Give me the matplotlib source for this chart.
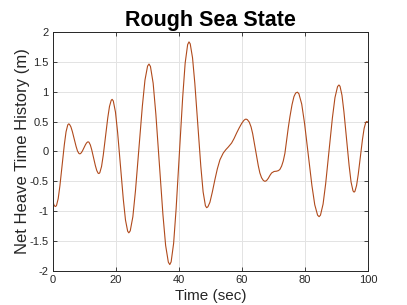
import matplotlib
matplotlib.use("Agg")
import matplotlib.pyplot as plt

# tiempo (s) y altura neta (m)
time_sec = [0.0, 0.3, 0.6, 0.85,
            1.14, 1.68, 2.22, 2.93, 3.63, 4.17, 4.71, 5.0,
            5.25, 5.7, 6.16, 6.75, 7.35, 7.8, 8.26, 8.5,
            8.69, 9.04, 9.39, 9.85, 10.31, 10.66, 11.01, 11.2,
            11.44, 11.88, 12.32, 12.9, 13.48, 13.92, 14.36, 14.6,
            14.89, 15.44, 15.99, 16.7, 17.41, 17.96, 18.51, 18.8,
            19.17, 19.86, 20.55, 21.45, 22.35, 23.04, 23.73, 24.1,
            24.55, 25.38, 26.21, 27.3, 28.39, 29.22, 30.05, 30.5,
            30.96, 31.82, 32.68, 33.8, 34.92, 35.78, 36.64, 37.1,
            37.53, 38.32, 39.11, 40.15, 41.19, 41.98, 42.77, 43.2,
            43.59, 44.32, 45.05, 46.0, 46.95, 47.68, 48.41, 48.8,
            49.2, 49.84, 50.6, 51.43, 52.2, 53.02, 54.07, 54.9, 55.66, 56.72,
            57.5, 58.31, 59.1, 59.89, 60.6, 61.0, 61.3, 61.7, 62.33, 62.9,
            63.4, 64.1, 64.7, 65.2, 65.7, 66.24, 66.8, 67.3, 67.8, 68.36,
            68.9, 69.42, 70.2, 71.0, 71.6, 72.06, 72.6, 73.12, 73.65, 74.18,
            74.7, 75.24, 75.9, 76.51, 77.05, 77.6,
            78.08, 78.98, 79.88, 81.05, 82.22, 83.12, 84.02, 84.5,
            84.94, 85.76, 86.58, 87.65, 88.72, 89.54, 90.36, 90.8,
            91.14, 91.76, 92.38, 93.2, 94.02, 94.64, 95.26, 95.6,
            95.88, 96.4, 96.92, 97.6, 98.28, 98.8, 99.32, 99.6, 100.0]
heave_m = [-0.83, -0.89, -0.915, -0.92,
           -0.903, -0.788, -0.575, -0.23, 0.115, 0.328, 0.443, 0.46,
           0.454, 0.412, 0.335, 0.21, 0.085, 0.008, -0.034, -0.04,
           -0.038, -0.021, 0.01, 0.06, 0.11, 0.141, 0.158, 0.16,
           0.154, 0.109, 0.0275, -0.105, -0.2375, -0.319, -0.364, -0.37,
           -0.355, -0.252, -0.06, 0.25, 0.56, 0.752, 0.855, 0.87,
           0.843, 0.657, 0.3125, -0.245, -0.8025, -1.147, -1.333, -1.36,
           -1.326, -1.091, -0.655, 0.05, 0.755, 1.191, 1.426, 1.46,
           1.42, 1.14, 0.6225, -0.215, -1.0525, -1.57, -1.85, -1.89,
           -1.845, -1.535, -0.96, -0.03, 0.9, 1.475, 1.785, 1.83,
           1.797, 1.565, 1.1375, 0.445, -0.2475, -0.675, -0.907, -0.94,
           -0.925, -0.85, -0.68, -0.47, -0.29, -0.14, -0.027, 0.03, 0.073, 0.14,
           0.215, 0.307, 0.39, 0.465, 0.518, 0.535, 0.54, 0.532, 0.49, 0.41,
           0.30, 0.09, -0.09, -0.24, -0.36, -0.44, -0.485, -0.5, -0.488, -0.45,
           -0.40, -0.36, -0.335, -0.33, -0.32, -0.30, -0.245, -0.16, -0.03, 0.18,
           0.39, 0.58, 0.78, 0.915, 0.975, 0.99,
           0.965, 0.791, 0.47, -0.05, -0.57, -0.891, -1.065, -1.09,
           -1.064, -0.88, -0.54, 0.01, 0.56, 0.9, 1.084, 1.11,
           1.089, 0.939, 0.6625, 0.215, -0.2325, -0.509, -0.659, -0.68,
           -0.666, -0.567, -0.385, -0.09, 0.205, 0.387, 0.486, 0.50, 0.49]

x_ticks = [0, 20, 40, 60, 80, 100]
y_ticks = [-2, -1.5, -1, -0.5, 0, 0.5, 1, 1.5, 2]
y_labels = ["-2", "-1.5", "-1", "-0.5", "0", "0.5", "1", "1.5", "2"]

plt.rcParams["font.family"] = ["Liberation Sans", "DejaVu Sans"]

fig = plt.figure(figsize=(4.07, 3.05), dpi=100)
ax = fig.add_axes([0.130, 0.111, 0.774, 0.785])

ax.plot(time_sec, heave_m, color="#b04a1c", linewidth=0.8)

ax.set_xlim(0, 100)
ax.set_ylim(-2, 2)
ax.set_xticks(x_ticks)
ax.set_yticks(y_ticks)
ax.set_yticklabels(y_labels)
ax.grid(True, color="#e3e3e3", linewidth=0.7)
ax.set_axisbelow(True)

ax.tick_params(direction="in", length=3, width=0.6, colors="#262626",
               labelsize=8, top=True, right=True, pad=3)
for s in ax.spines.values():
    s.set_color("#262626")
    s.set_linewidth(0.7)

ax.set_xlabel("Time (sec)", fontsize=11, color="#262626", labelpad=3)
ax.set_ylabel("Net Heave Time History (m)", fontsize=12, color="#262626", labelpad=0)
ax.set_title("Rough Sea State", fontsize=15.5, fontweight="bold", pad=4)

fig.savefig("out.png", dpi=100)
